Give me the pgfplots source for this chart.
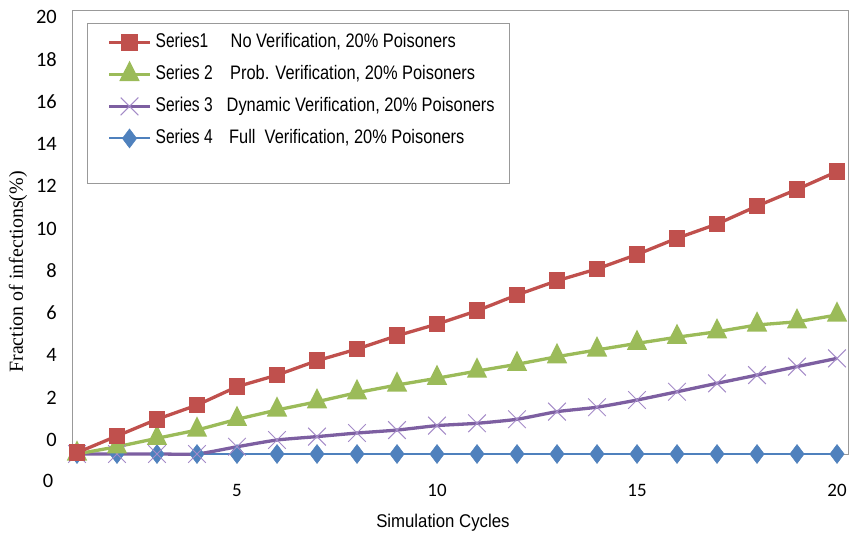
\documentclass[border=0pt]{standalone}
\usepackage{pgfplots}
\pgfplotsset{compat=1.18}
\usepackage{fontspec}
\setmainfont{Liberation Sans}
\newfontfamily\tickfont{Carlito}
\newfontfamily\legfont[FakeStretch=0.84]{Liberation Sans}
\newfontfamily\serfont[FakeStretch=0.78]{Liberation Sans}
\newfontfamily\ylabfont{Liberation Serif}
\newfontfamily\xlabfont[FakeStretch=0.91]{Liberation Sans}
\definecolor{sred}{HTML}{C0504D}
\definecolor{sgreen}{HTML}{9BBB59}
\definecolor{spurple}{HTML}{7D5FA1}
\definecolor{spurplel}{HTML}{A48BC8}
\definecolor{sblue}{HTML}{4F81BD}
\newcommand\lent[3]{\makebox[354bp][l]{\rule[-11bp]{0pt}{32bp}\makebox[#1][l]{\serfont\fontsize{20}{20}\selectfont #2}{\legfont\fontsize{19.6}{20}\selectfont #3}}}
\pgfplotsset{
  legend image code/.code={\path (0bp,0bp); \draw[mark repeat=2,mark phase=2,#1] plot coordinates {(20bp,0bp) (40.5bp,0bp) (61bp,0bp)};},
}
\begin{document}
\begin{tikzpicture}
\begin{axis}[
  scale only axis, width=776bp, height=444bp,
  xmin=0.875, xmax=20.275, ymin=-0.662, ymax=20.331,
  clip=false,
  axis line style={draw=black!40, line width=0.8bp},
  major tick length=0pt,
  xtick={5,10,15,20}, xticklabels={5,10,15,20},
  ytick={0,2,...,20}, yticklabels={0,2,4,6,8,10,12,14,16,18,20},
  xticklabel style={font=\tickfont\fontsize{19}{19}\selectfont, anchor=center, inner sep=0pt, yshift=-36bp},
  yticklabel style={font=\tickfont\fontsize{20.5}{20.5}\selectfont, anchor=east, inner sep=0pt, xshift=-15bp},
  xlabel={Simulation Cycles}, ylabel={Fraction of infections(\%)},
  every axis x label/.style={at={(rel axis cs:0.478,0)}, anchor=center, yshift=-69bp, font=\xlabfont\fontsize{18.5}{18.5}\selectfont},
  every axis y label/.style={at={(rel axis cs:0,0.41)}, anchor=center, rotate=90, yshift=54bp, font=\ylabfont\fontsize{20}{20}\selectfont},
  reverse legend,
  legend style={at={(rel axis cs:0.0193,0.9707)}, anchor=north west, draw=black!40, line width=0.8bp, fill=white,
    inner xsep=0pt, inner ysep=3bp, cells={anchor=west}, nodes={inner sep=0pt, text depth={}}, column sep=4bp, row sep=0pt},
]
\addlegendimage{empty legend}
\addlegendentry{\rule{0pt}{26bp}}
\addplot[color=sblue, line width=2bp, mark=diamond*, mark size=9.5bp, mark options={solid, line width=0.5bp}] coordinates {
(1,-0.662)(2,-0.662)(3,-0.662)(4,-0.662)(5,-0.662)(6,-0.662)(7,-0.662)(8,-0.662)(9,-0.662)(10,-0.662)
(11,-0.662)(12,-0.662)(13,-0.662)(14,-0.662)(15,-0.662)(16,-0.662)(17,-0.662)(18,-0.662)(19,-0.662)(20,-0.662)};
\addlegendentry{\lent{73.5bp}{Series 4}{Full~ Verification, 20\% Poisoners}}
\addplot[color=spurple, line width=3.3bp, smooth, tension=0.35, mark=x, mark size=12.5bp, mark options={draw=spurplel, line width=1bp}] coordinates {
(1,-0.66)(2,-0.66)(3,-0.66)(4,-0.66)(5,-0.32)(6,0.00)(7,0.16)(8,0.33)(9,0.47)(10,0.68)
(11,0.79)(12,0.98)(13,1.34)(14,1.55)(15,1.89)(16,2.28)(17,2.68)(18,3.07)(19,3.47)(20,3.86)};
\addlegendentry{\lent{71bp}{Series 3}{Dynamic Verification, 20\% Poisoners}}
\addplot[color=sgreen, line width=3.3bp, mark=triangle*, mark size=8.7bp, mark options={solid, yscale=1.15}] coordinates {
(1,-0.66)(2,-0.32)(3,0.08)(4,0.47)(5,0.98)(6,1.42)(7,1.81)(8,2.24)(9,2.60)(10,2.92)
(11,3.26)(12,3.58)(13,3.94)(14,4.26)(15,4.57)(16,4.86)(17,5.12)(18,5.44)(19,5.59)(20,5.91)};
\addlegendentry{\lent{74.5bp}{Series 2}{Prob. Verification, 20\% Poisoners}}
\addplot[color=sred, line width=3.3bp, mark=square*, mark size=6.7bp, mark options={solid}] coordinates {
(1,-0.60)(2,0.19)(3,0.98)(4,1.65)(5,2.52)(6,3.07)(7,3.75)(8,4.30)(9,4.93)(10,5.48)
(11,6.11)(12,6.86)(13,7.53)(14,8.09)(15,8.77)(16,9.54)(17,10.21)(18,11.06)(19,11.85)(20,12.69)};
\addlegendentry{\lent{75bp}{Series1}{No Verification, 20\% Poisoners}}
\node[anchor=center, inner sep=0pt, font=\tickfont\fontsize{20.5}{20.5}\selectfont] at (rel axis cs:0,0) [xshift=-24bp, yshift=-27bp] {0};
\coordinate (bl) at (rel axis cs:0,0);
\end{axis}
\pgfresetboundingbox
\path (bl) ++(-72bp,-83bp) rectangle ++(851bp,537bp);
\end{tikzpicture}
\end{document}
